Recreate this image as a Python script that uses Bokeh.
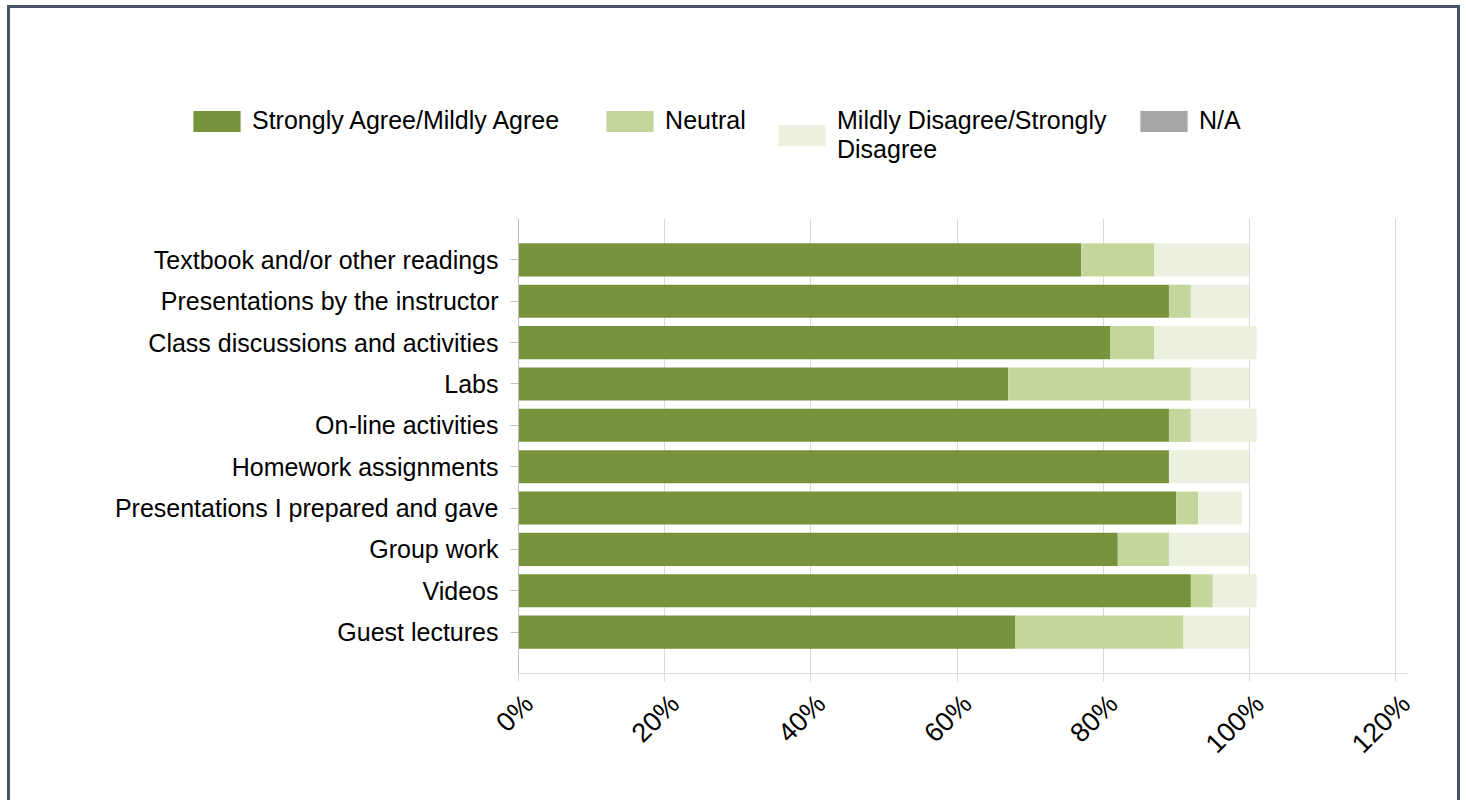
import math
from bokeh.plotting import figure
from bokeh.layouts import column
from bokeh.models import (FactorRange, Range1d, FixedTicker, PrintfTickFormatter,
                          Legend, LegendItem, ColumnDataSource, LinearAxis)
from bokeh.embed import file_html
from bokeh.resources import INLINE

categories = ["Textbook and/or other readings", "Presentations by the instructor",
              "Class discussions and activities", "Labs", "On-line activities",
              "Homework assignments", "Presentations I prepared and gave",
              "Group work", "Videos", "Guest lectures"]
agree = [77, 89, 81, 67, 89, 89, 90, 82, 92, 68]
neutral = [10, 3, 6, 25, 3, 0, 3, 7, 3, 23]
disagree = [13, 8, 14, 8, 9, 11, 6, 11, 6, 9]
na = [0, 0, 0, 0, 0, 0, 0, 0, 0, 0]
series_names = ["Strongly Agree/Mildly Agree", "Neutral",
                "Mildly Disagree/Strongly\nDisagree", "N/A"]
colors = ["#77933c", "#c3d69b", "#ebf1de", "#a6a6a6"]
x_ticks = [0, 20, 40, 60, 80, 100, 120]

FONT = "Liberation Sans"
BC = "#475467"
W = 1447
AXIS_W = 877          # pixels from 0% to 120%
EXTRA_W = 12          # frame extends a little past 120%
FRAME_W = AXIS_W + EXTRA_W
LABEL_SHIFT_PX = 10

src = ColumnDataSource(dict(cat=categories, agree=agree, neutral=neutral,
                            disagree=disagree, na=na))
keys = ["agree", "neutral", "disagree", "na"]

# ---------- legend strip ----------
leg = figure(width=W, height=180, x_range=Range1d(0, 1), y_range=Range1d(0, 1),
             x_axis_type=None, y_axis_type=None, min_border=0,
             output_backend="svg", toolbar_location=None)
leg.frame_align = False
leg.outline_line_color = None
leg.styles = {"margin-left": "10px", "margin-top": "8px",
              "box-shadow": f"-3px 0 0 0 {BC}, 3px 0 0 0 {BC}, 0 -3px 0 0 {BC}, "
                            f"-3px -3px 0 0 {BC}, 3px -3px 0 0 {BC}"}
leg_items = []
for name, c in zip(series_names, colors):
    r = leg.hbar(y=[0.5], left=[0], right=[0], height=0.1, fill_color=c, line_color=None)
    leg_items.append(LegendItem(label=name, renderers=[r]))


def make_legend(items, loc, spacing=41):
    return Legend(items=items, orientation="horizontal", location=loc,
                  label_text_font=FONT, label_text_font_size="25px",
                  label_text_color="#000000",
                  glyph_width=59, glyph_height=26, label_standoff=6, spacing=spacing,
                  padding=0, margin=0, border_line_color=None,
                  background_fill_alpha=0)


leg.add_layout(make_legend(leg_items[0:2], (177, 53)))
leg.add_layout(make_legend(leg_items[2:3], (762, 24)))
leg.add_layout(make_legend(leg_items[3:4], (1124, 53)))

# ---------- main chart ----------
span = x_ticks[-1] - x_ticks[0]
x_end = x_ticks[0] + span * FRAME_W / AXIS_W
shift = LABEL_SHIFT_PX * span / AXIS_W
p = figure(y_range=FactorRange(factors=categories[::-1], range_padding=0.1),
           x_range=Range1d(x_ticks[0], x_end),
           frame_width=FRAME_W, frame_height=455,
           min_border_left=508, min_border_right=W - 508 - FRAME_W,
           min_border_top=30, min_border_bottom=127,
           output_backend="svg", toolbar_location=None)
p.frame_align = False
p.styles = {"margin-left": "10px",
            "box-shadow": f"-3px 0 0 0 {BC}, 3px 0 0 0 {BC}"}
p.extra_x_ranges = {"lbl": Range1d(x_ticks[0] - shift, x_end - shift)}

p.hbar_stack(keys, y="cat", height=0.8, fill_color=colors, line_color=None, source=src)

p.outline_line_color = None

xa = p.xaxis[0]
xa.ticker = FixedTicker(ticks=x_ticks)
xa.axis_line_color = "#d9d9d9"
xa.major_tick_line_color = "#d9d9d9"
xa.major_tick_out = 8
xa.major_tick_in = 0
xa.minor_tick_line_color = None
xa.major_label_text_font_size = "1px"
xa.major_label_text_alpha = 0
xa.major_label_standoff = 0

xl = LinearAxis(x_range_name="lbl", ticker=FixedTicker(ticks=x_ticks),
                formatter=PrintfTickFormatter(format="%d%%"),
                major_label_orientation=math.pi / 4,
                axis_line_color=None, major_tick_line_color=None,
                minor_tick_line_color=None, major_tick_out=0, major_tick_in=0,
                major_label_text_font=FONT, major_label_text_font_size="27px",
                major_label_text_color="#000000", major_label_standoff=18)
p.add_layout(xl, "below")

p.xgrid.ticker = FixedTicker(ticks=x_ticks)
p.xgrid.grid_line_color = "#d9d9d9"
p.ygrid.grid_line_color = None

p.yaxis.axis_line_color = "#bfbfbf"
p.yaxis.major_tick_line_color = "#bfbfbf"
p.yaxis.major_tick_out = 8
p.yaxis.major_tick_in = 0
p.yaxis.major_label_text_font = FONT
p.yaxis.major_label_text_font_size = "25px"
p.yaxis.major_label_text_color = "#000000"
p.yaxis.major_label_standoff = 12

layout = column(leg, p, spacing=0)

open("out.html", "w").write(file_html(layout, INLINE))
